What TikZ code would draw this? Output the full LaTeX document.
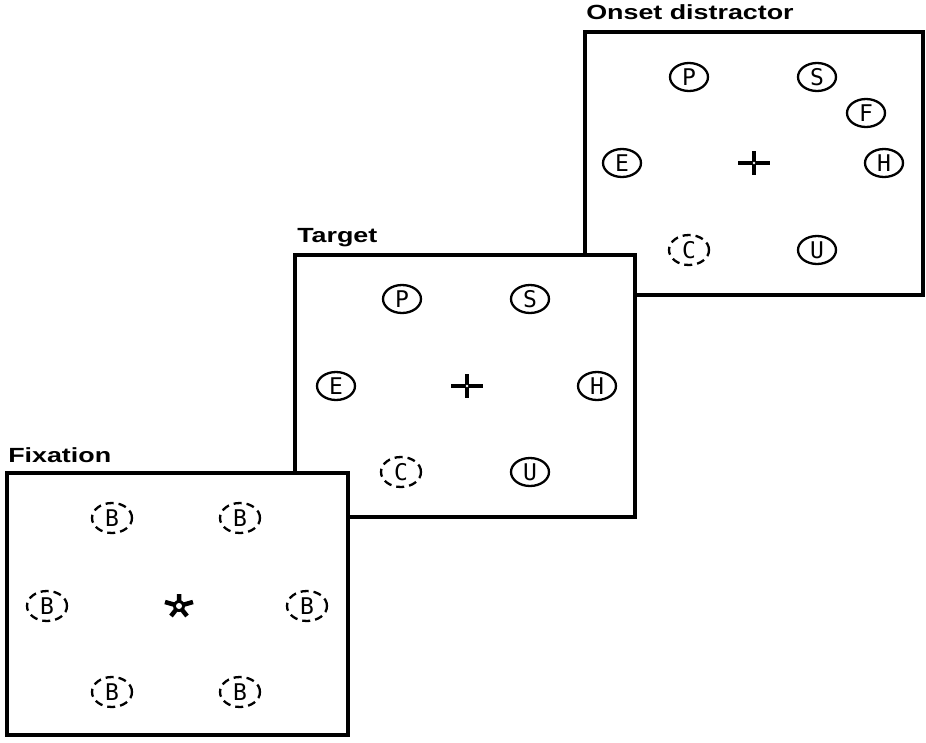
\documentclass[tikz,border=0pt]{standalone}
\usepackage{fontspec}
\setmainfont{Liberation Sans}
\newfontfamily\glyphfont{DejaVu Sans Mono}
\usetikzlibrary{shapes.geometric}

\tikzset{
  panel/.style={draw, line width=3.8pt, fill=white},
  paneltitle/.style={anchor=base west, inner sep=0pt,
    font=\fontsize{20.5}{21}\selectfont\bfseries, xscale=1.31},
  item/.style={ellipse, draw, line width=2.3pt, minimum width=38pt,
    minimum height=28pt, inner sep=0pt,
    font=\glyphfont\fontsize{23}{23}\selectfont},
  placeholder/.style={item, dash pattern=on 8pt off 5pt,
    minimum width=40pt, minimum height=30pt},
  hubpoint/.style={inner sep=0pt, minimum size=0pt},
  plus sign/.pic={
    \draw[line width=4pt] (-16,0) -- (16,0) (0,-12) -- (0,12);
    \fill[white] (0,0) circle (1.4pt);
  },
  fix star/.pic={
    \draw[line width=4.5pt] (0,0) -- (0,-12)
      (0,0) -- (14,-4) (0,0) -- (-14,-4)
      (0,0) -- (-8,10) (0,0) -- (8,10);
    \fill (0,0) circle (6pt);
    \fill[white] (0,0) circle (3pt);
  }
}

\begin{document}
\begin{tikzpicture}[x=1pt, y=-1pt]
\useasboundingbox (0,0) rectangle (926,742);

% ---- onset distractor display (back) ----
\draw[panel] (585,32) rectangle (923,295);
\node[paneltitle] (otitle) at (586,19) {Onset distractor};
\node[item] (oP) at (689,77) {P};
\node[item] (oS) at (817,77) {S};
\node[item] (oF) at (866,113) {F};
\node[item] (oE) at (622,163) {E};
\node[item] (oH) at (884,163) {H};
\node[placeholder] (oC) at (689,250) {C};
\node[item] (oU) at (817,250) {U};
\node[hubpoint] (ofix) at (754,163) {};
\pic at (ofix) {plus sign};

% ---- target display (middle) ----
\draw[panel] (295,255) rectangle (635,517);
\node[paneltitle] (ttitle) at (297,242) {Target};
\node[item] (tP) at (402,299) {P};
\node[item] (tS) at (530,299) {S};
\node[item] (tE) at (336,386) {E};
\node[item] (tH) at (597,386) {H};
\node[placeholder] (tC) at (401,472) {C};
\node[item] (tU) at (530,472) {U};
\node[hubpoint] (tfix) at (467,386) {};
\pic at (tfix) {plus sign};

% ---- fixation display (front) ----
\draw[panel] (7,473) rectangle (348,735);
\node[paneltitle] (ftitle) at (8,462) {Fixation};
\node[placeholder] (fB1) at (112,518) {B};
\node[placeholder] (fB2) at (240,518) {B};
\node[placeholder] (fB3) at (47,606) {B};
\node[placeholder] (fB4) at (307,606) {B};
\node[placeholder] (fB5) at (112,692) {B};
\node[placeholder] (fB6) at (240,692) {B};
\node[hubpoint] (ffix) at (179,606) {};
\pic at (ffix) {fix star};
\end{tikzpicture}
\end{document}
